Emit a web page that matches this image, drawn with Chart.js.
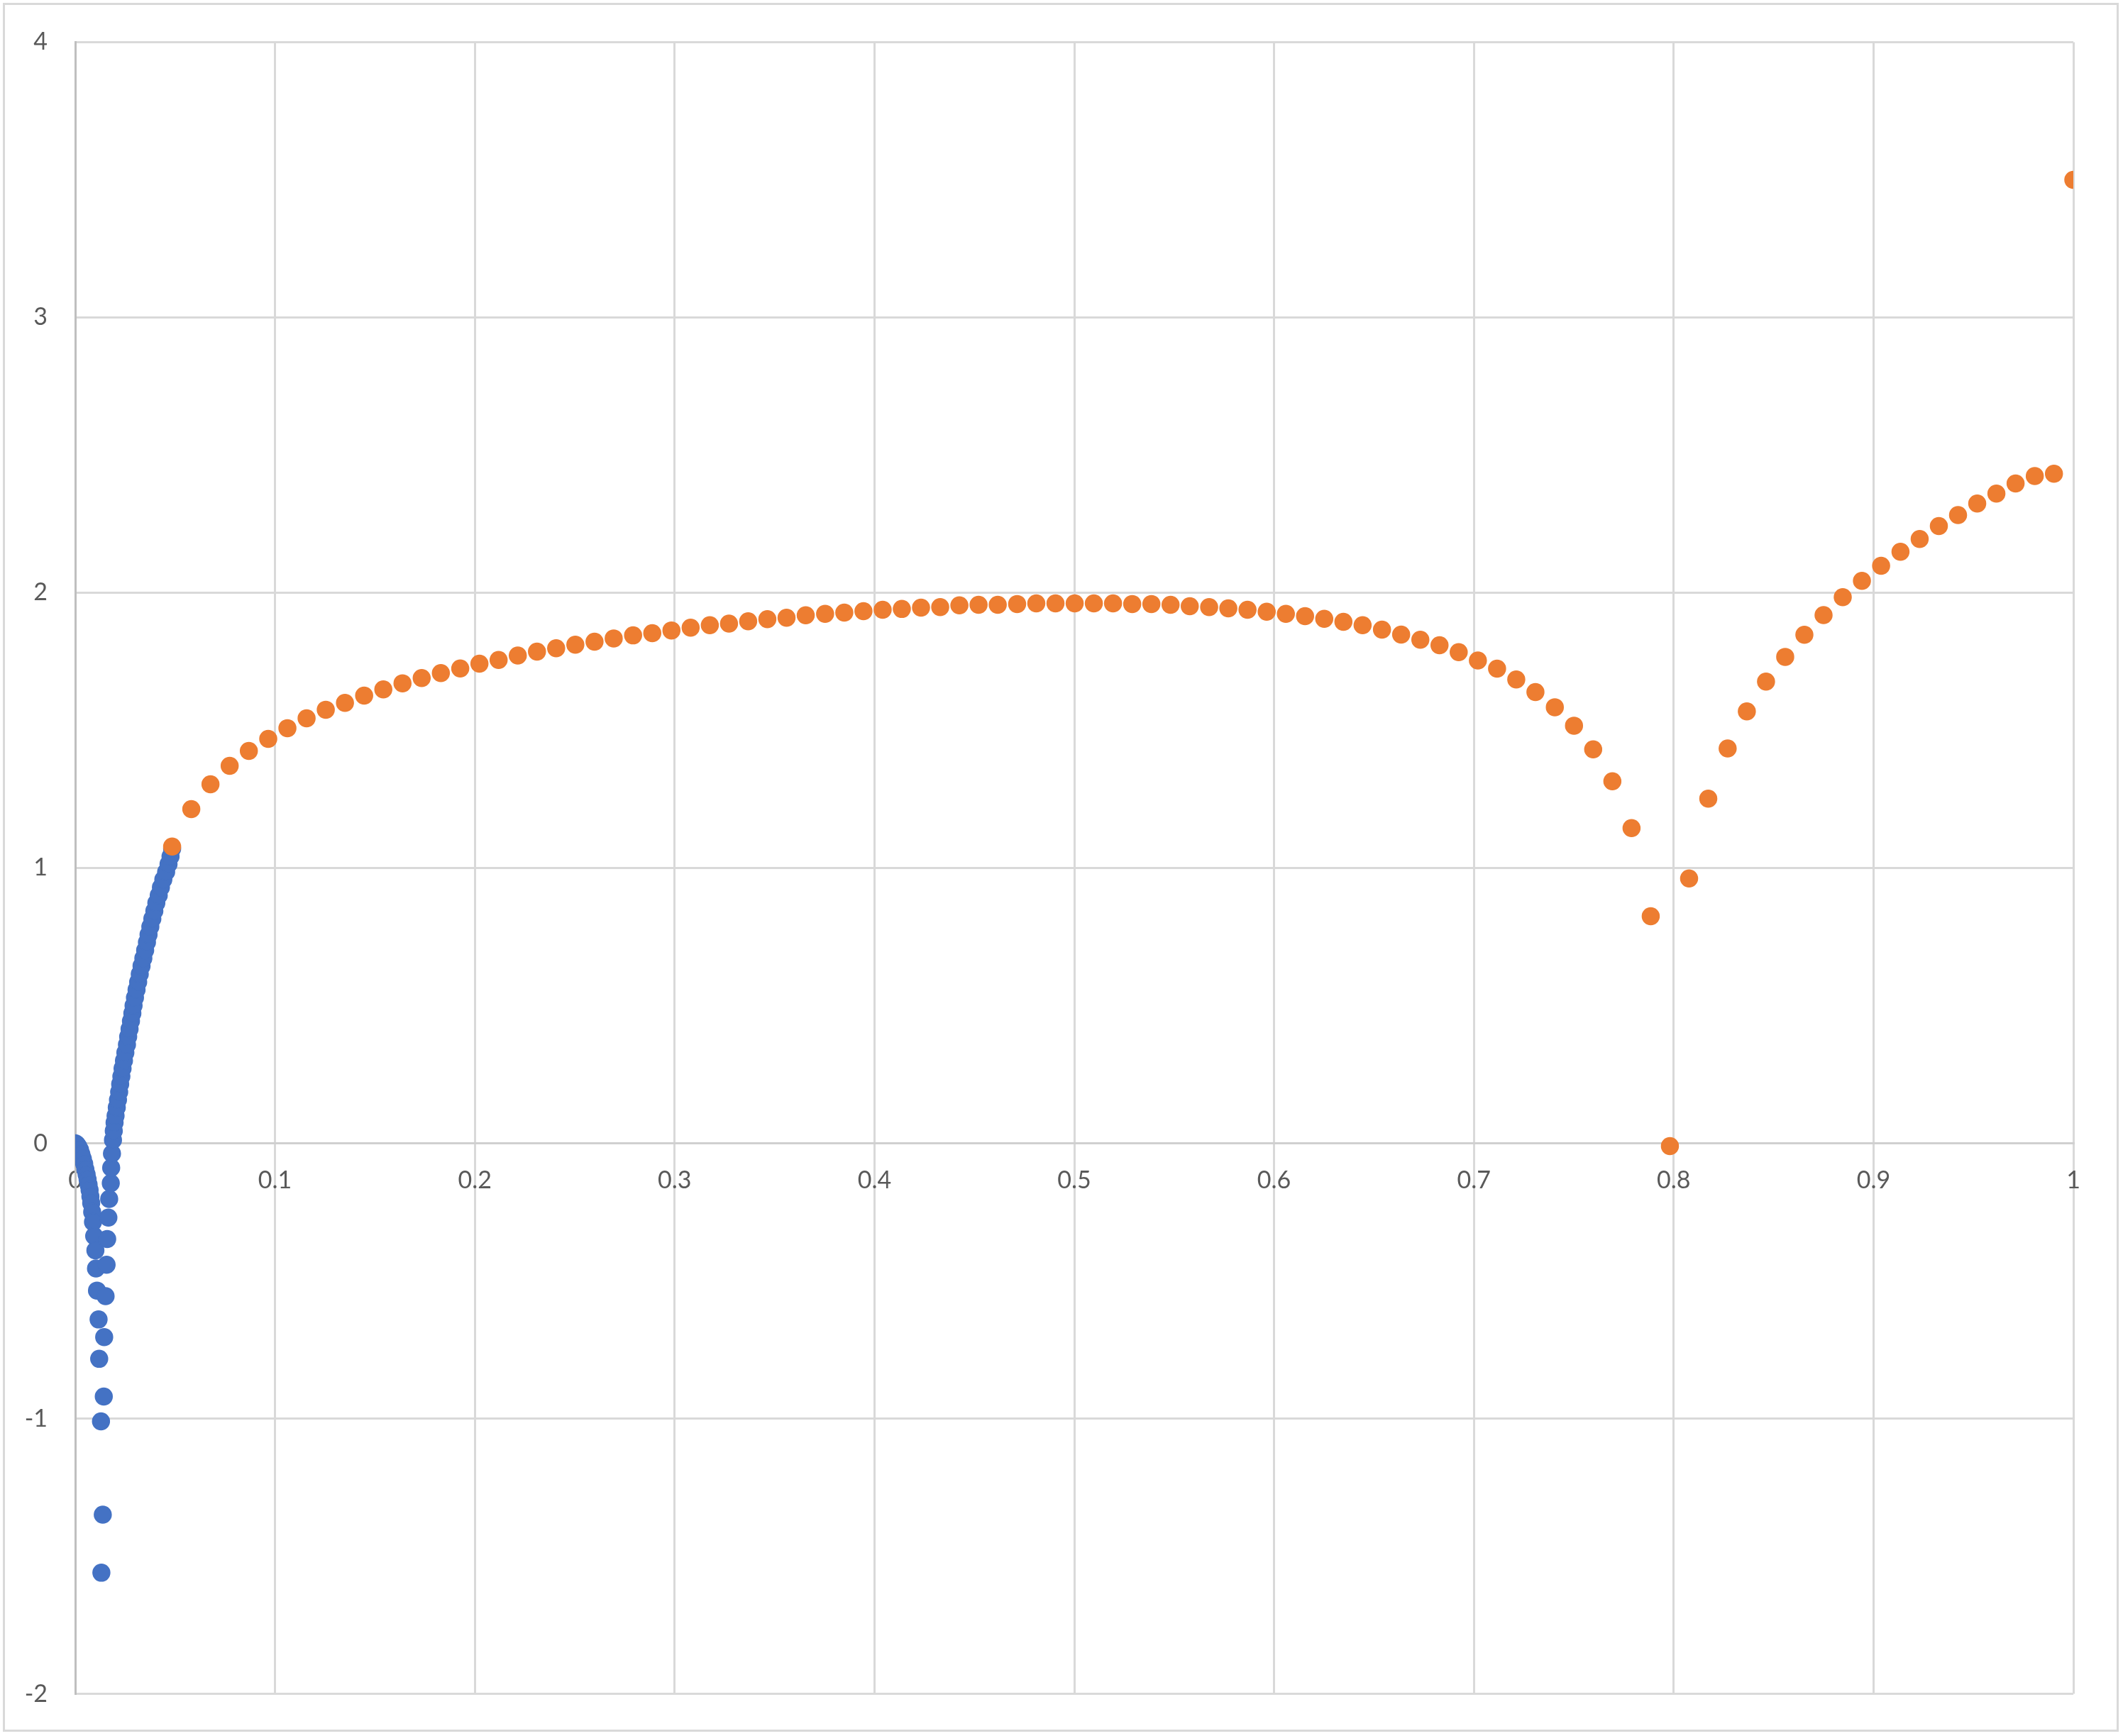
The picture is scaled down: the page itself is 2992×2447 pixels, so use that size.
<!DOCTYPE html>
<html>
<head>
<meta charset="utf-8">
<script src="https://cdn.jsdelivr.net/npm/chart.js@4/dist/chart.umd.min.js"></script>
<style>
html,body{margin:0;padding:0;background:#ffffff;}
#frame{position:absolute;left:4px;top:4px;width:2982px;height:2437px;box-sizing:border-box;border:3px solid #d9d9d9;}
#c{position:absolute;left:0;top:0;}
</style>
</head>
<body>
<div id="frame"></div>
<canvas id="c" width="2992" height="2447"></canvas>
<script>
// ---- Data ----
const blueX = [
  0.0000, 0.0008, 0.0016, 0.0024, 0.0031, 0.0038, 0.0045, 0.0051, 0.0057, 0.0062,
  0.0067, 0.0072, 0.0076, 0.0080, 0.0085, 0.0089, 0.0095, 0.0101, 0.0104, 0.0109,
  0.0117, 0.0120, 0.0129, 0.0131,
  0.0138, 0.0143, 0.0145, 0.0152, 0.0157, 0.0160, 0.0166, 0.0170, 0.0178, 0.0180,
  0.0184, 0.0189, 0.0193, 0.0197, 0.0202, 0.0208, 0.0214, 0.0220, 0.0225, 0.0231,
  0.0237, 0.0244, 0.0251, 0.0259, 0.0265, 0.0272, 0.0279, 0.0286, 0.0292, 0.0299,
  0.0307, 0.0315, 0.0323, 0.0332, 0.0341, 0.0350, 0.0359, 0.0367, 0.0376, 0.0386,
  0.0396, 0.0406, 0.0418, 0.0429, 0.0441, 0.0455, 0.0467, 0.0477, 0.0485
];
const blueY = [
  0.000, -0.004, -0.012, -0.024, -0.040, -0.056, -0.075, -0.095, -0.113, -0.131,
  -0.150, -0.170, -0.193, -0.217, -0.250, -0.286, -0.337, -0.389, -0.455, -0.535,
  -0.640, -0.783, -1.010, -1.560,
  -1.349, -0.920, -0.704, -0.555, -0.441, -0.348, -0.270, -0.202, -0.145, -0.089,
  -0.037, 0.012, 0.045, 0.075, 0.100, 0.130, 0.158, 0.186, 0.215, 0.243,
  0.272, 0.300, 0.329, 0.358, 0.387, 0.415, 0.444, 0.472, 0.500, 0.529,
  0.558, 0.586, 0.615, 0.644, 0.672, 0.701, 0.730, 0.758, 0.787, 0.816,
  0.844, 0.873, 0.901, 0.930, 0.958, 0.986, 1.014, 1.042, 1.070
];
const orangeX = [
  0.0485, 0.0581, 0.0677, 0.0773, 0.0869, 0.0966, 0.1062, 0.1158, 0.1254, 0.1350,
  0.1446, 0.1542, 0.1638, 0.1734, 0.1830, 0.1927, 0.2023, 0.2119, 0.2215, 0.2311,
  0.2407, 0.2503, 0.2599, 0.2695, 0.2792, 0.2888, 0.2984, 0.3080, 0.3176, 0.3272,
  0.3368, 0.3464, 0.3560, 0.3656, 0.3753, 0.3849, 0.3945, 0.4041, 0.4137, 0.4233,
  0.4329, 0.4425, 0.4521, 0.4617, 0.4714, 0.4810, 0.4906, 0.5002, 0.5098, 0.5194,
  0.5290, 0.5386, 0.5482, 0.5578, 0.5675, 0.5771, 0.5867, 0.5963, 0.6059, 0.6155,
  0.6251, 0.6347, 0.6443, 0.6540, 0.6636, 0.6732, 0.6828, 0.6924, 0.7020, 0.7116,
  0.7212, 0.7308, 0.7405, 0.7501, 0.7597, 0.7693, 0.7789, 0.7885, 0.7981, 0.8077,
  0.8173, 0.8270, 0.8366, 0.8462, 0.8558, 0.8654, 0.8750, 0.8846, 0.8942, 0.9038,
  0.9135, 0.9231, 0.9327, 0.9423, 0.9519, 0.9615, 0.9711, 0.9807, 0.9903, 1.0000
];
const orangeY = [
  1.078, 1.214, 1.304, 1.371, 1.425, 1.469, 1.508, 1.544, 1.575, 1.600,
  1.626, 1.649, 1.671, 1.690, 1.708, 1.725, 1.742, 1.756, 1.772, 1.786,
  1.798, 1.811, 1.822, 1.834, 1.845, 1.853, 1.863, 1.873, 1.882, 1.888,
  1.896, 1.904, 1.909, 1.918, 1.923, 1.928, 1.933, 1.938, 1.941, 1.946,
  1.948, 1.954, 1.956, 1.956, 1.959, 1.961, 1.961, 1.961, 1.961, 1.961,
  1.959, 1.959, 1.956, 1.951, 1.948, 1.943, 1.938, 1.931, 1.923, 1.915,
  1.905, 1.894, 1.882, 1.866, 1.848, 1.829, 1.809, 1.784, 1.754, 1.724,
  1.685, 1.639, 1.584, 1.517, 1.431, 1.315, 1.145, 0.825, -0.010, 0.962,
  1.252, 1.434, 1.569, 1.677, 1.767, 1.847, 1.919, 1.984, 2.043, 2.098,
  2.149, 2.195, 2.242, 2.282, 2.324, 2.360, 2.397, 2.424, 2.432, 3.500
];
const xTicks = [0, 0.1, 0.2, 0.3, 0.4, 0.5, 0.6, 0.7, 0.8, 0.9, 1];
const xTickLabels = ['0', '0.1', '0.2', '0.3', '0.4', '0.5', '0.6', '0.7', '0.8', '0.9', '1'];
const yTicks = [-2, -1, 0, 1, 2, 3, 4];
const yTickLabels = ['-2', '-1', '0', '1', '2', '3', '4'];

// ---- Chart ----
const tickFont = {family: 'Lato', size: 34};
const gridCol = '#d9d9d9';
const axisCol = '#bfbfbf';

new Chart(document.getElementById('c'), {
  type: 'scatter',
  data: {
    datasets: [
      {
        label: 'Series1',
        data: blueX.map((x, i) => ({x: x, y: blueY[i]})),
        backgroundColor: '#4472C4',
        borderColor: '#4472C4',
        pointRadius: 12,
        pointBorderWidth: 1.5,
        order: 2
      },
      {
        label: 'Series2',
        data: orangeX.map((x, i) => ({x: x, y: orangeY[i]})),
        backgroundColor: '#ED7D31',
        borderColor: '#ED7D31',
        pointRadius: 12,
        pointBorderWidth: 1.5,
        order: 1
      }
    ]
  },
  options: {
    responsive: false,
    animation: false,
    devicePixelRatio: 1,
    events: [],
    layout: {padding: {left: 0, top: 55, right: 70, bottom: 59}},
    plugins: {legend: {display: false}, tooltip: {enabled: false}},
    scales: {
      x: {
        type: 'linear',
        position: {y: 0},
        min: 0,
        max: 1,
        afterBuildTicks: s => { s.ticks = xTicks.map(v => ({value: v})); },
        ticks: {
          callback: (v, i) => xTickLabels[i],
          color: '#595959',
          font: tickFont,
          padding: 32,
          maxRotation: 0,
          autoSkip: false
        },
        grid: {
          color: c => (c.tick && c.tick.value === 0) ? axisCol : gridCol,
          lineWidth: 3,
          drawTicks: false
        },
        border: {color: '#d0d0d0', width: 3}
      },
      y: {
        type: 'linear',
        position: 'left',
        min: -2,
        max: 4,
        afterBuildTicks: s => { s.ticks = yTicks.map(v => ({value: v})); },
        afterFit: s => { s.width = 106; },
        ticks: {
          callback: (v, i) => yTickLabels[i],
          color: '#595959',
          font: tickFont,
          padding: 39
        },
        grid: {
          color: c => (c.tick && c.tick.value === 0) ? '#d0d0d0' : gridCol,
          lineWidth: 3,
          drawTicks: false
        },
        border: {color: axisCol, width: 3}
      }
    }
  }
});
</script>
</body>
</html>
